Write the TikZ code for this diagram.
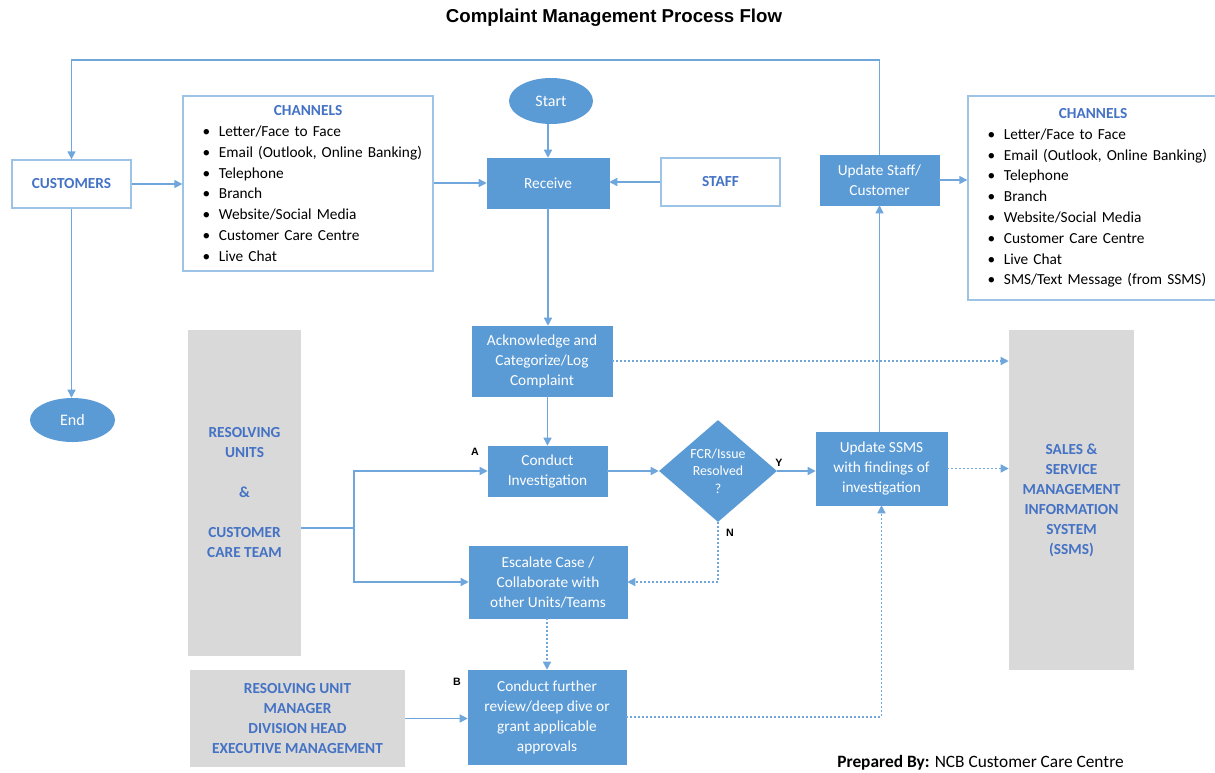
\documentclass[tikz,border=0pt]{standalone}
\usepackage{fontspec}
\setmainfont{Carlito}
\newfontfamily\arialfont{Liberation Sans}
\usepackage{tikz}
\usetikzlibrary{shapes.geometric}
\usetikzlibrary{positioning}
\usetikzlibrary{calc}
\usetikzlibrary{arrows.meta}
\definecolor{fillblue}{HTML}{5B9BD5}
\definecolor{lineblue}{HTML}{6FA6DC}
\definecolor{textblue}{HTML}{4472C4}
\definecolor{edgeblue}{HTML}{9DC3E6}
\definecolor{panelgrey}{HTML}{D9D9D9}
\newcommand{\chtitle}{\null\hfill{\bfseries\color{textblue}CHANNELS}\hfill\null}
\newcommand{\chitem}[1]{\hspace*{9pt}\textbullet\hspace{6.5pt}#1}

\begin{document}
\begin{tikzpicture}
			[
				x = 0.75pt, y = -0.75pt,
				myblock/.style = {draw = fillblue, fill = fillblue, rectangle, text = white, align = center, inner sep = 0pt, font = {\fontsize{11.5}{15}\selectfont}},
				mywhite/.style = {draw = edgeblue, line width = 1pt, rectangle, text = textblue, inner sep = 0pt, font = {\fontsize{11.5}{15}\selectfont\bfseries}},
				mychannels/.style = {draw = edgeblue, line width = 1pt, rectangle, text width = 176pt, align = left, font = {\fontsize{11.5}{15.6}\selectfont}},
				mygrey/.style = {fill = panelgrey, rectangle, text = textblue, align = center, inner sep = 0pt, font = {\fontsize{11.5}{15}\selectfont\bfseries}},
				myterminal/.style = {ellipse, fill = fillblue, text = white, inner sep = 0pt, font = {\fontsize{12}{14}\selectfont}},
				mydecision/.style = {diamond, fill = fillblue, text = white, align = center, inner sep = 0pt, font = {\fontsize{10.4}{13}\selectfont}},
				mytag/.style = {font = {\arialfont\fontsize{8}{9}\selectfont\bfseries}},
				myarrow/.style = {-{Triangle[length = 6pt, width = 6pt]}, draw = lineblue, line width = 1pt},
				myline/.style = {draw = lineblue, line width = 1pt},
				mydotted/.style = {myarrow, dash pattern = on 1.5pt off 1.5pt}
			]
			\useasboundingbox (0,0) rectangle (1215,772);
			%
			\node (title) at (614,18) {\arialfont\fontsize{14}{16}\selectfont\bfseries Complaint Management Process Flow};
			%
			\node (customers) [mywhite, minimum width = 89.25pt, minimum height = 36pt] at (71.5,184) {CUSTOMERS};
			\node (endnode) [myterminal, minimum width = 63.75pt, minimum height = 33pt] at (72.5,420) {End};
			\draw [myarrow] (customers.south) -- (customers.south |- endnode.north);
			%
			\node (chanleft) [mychannels, minimum width = 187.5pt, minimum height = 131.25pt] at (308,183.5)
				{\chtitle\\ \chitem{Letter/Face to Face}\\ \chitem{Email (Outlook, Online Banking)}\\ \chitem{Telephone}\\ \chitem{Branch}\\ \chitem{Website/Social Media}\\ \chitem{Customer Care Centre}\\ \chitem{Live Chat}};
			\draw [myarrow] (customers.east) -- (customers.east -| chanleft.west);
			%
			\node (start) [myterminal, minimum width = 63pt, minimum height = 34.5pt] at (551,101) {Start};
			\node (receive) [myblock, minimum width = 91.5pt, minimum height = 37.5pt] at (548,183) {Receive};
			\node (staff) [mywhite, minimum width = 89.25pt, minimum height = 36pt] at (720.5,182) {STAFF};
			\draw [myarrow] (start.south -| receive.north) -- (receive.north);
			\draw [myarrow] (chanleft.east |- receive.west) -- (receive.west);
			\draw [myarrow] (staff.west) -- (staff.west -| receive.east);
			%
			\node (acknowledge) [myblock, minimum width = 105pt, minimum height = 52.5pt] at (542,361) {Acknowledge and\\Categorize/Log\\Complaint};
			\draw [myarrow] (receive.south) -- (receive.south |- acknowledge.north);
			%
			\node (investigate) [myblock, minimum width = 89.25pt, minimum height = 37.5pt] at (547.5,471) {Conduct\\Investigation};
			\node (taga) [mytag] at (475,452) {A};
			\draw [myarrow] (investigate.north |- acknowledge.south) -- (investigate.north);
			%
			\node (resolved) [mydecision, minimum width = 88.5pt, minimum height = 76.5pt] at (718,471) {FCR/Issue\\Resolved\\?};
			\node (tagy) [mytag] at (779,463) {Y};
			\node (tagn) [mytag] at (730,533) {N};
			\draw [myarrow] (investigate.east) -- (resolved.west);
			%
			\node (updatessms) [myblock, minimum width = 98.25pt, minimum height = 54.75pt] at (881.5,468.5) {Update SSMS\\with findings of\\investigation};
			\draw [myarrow] (resolved.east) -- (resolved.east -| updatessms.west);
			%
			\node (updatestaff) [myblock, minimum width = 89.25pt, minimum height = 37.5pt] at (879.5,180) {Update Staff/\\Customer};
			\draw [myarrow] (updatestaff.south |- updatessms.north) -- (updatestaff.south);
			%
			\node (chanright) [mychannels, minimum width = 187.5pt, minimum height = 153pt] at (1093,198)
				{\chtitle\\ \chitem{Letter/Face to Face}\\ \chitem{Email (Outlook, Online Banking)}\\ \chitem{Telephone}\\ \chitem{Branch}\\ \chitem{Website/Social Media}\\ \chitem{Customer Care Centre}\\ \chitem{Live Chat}\\ \chitem{SMS/Text Message (from SSMS)}};
			\draw [myarrow] (updatestaff.east) -- (updatestaff.east -| chanright.west);
			%
			\coordinate (toprail) at (0,60);
			\draw [myarrow] (updatestaff.north) -- (updatestaff.north |- toprail) -| (customers.north);
			%
			\node (ssms) [mygrey, minimum width = 93.75pt, minimum height = 255pt] at (1071.5,500) {SALES \&\\SERVICE\\MANAGEMENT\\INFORMATION\\SYSTEM\\(SSMS)};
			\draw [mydotted] (acknowledge.east) -- (acknowledge.east -| ssms.west);
			\draw [mydotted] (updatessms.east) -- (updatessms.east -| ssms.west);
			%
			\node (escalate) [myblock, minimum width = 118.5pt, minimum height = 54pt] at (548,582) {Escalate Case /\\Collaborate with\\other Units/Teams};
			\draw [mydotted] (resolved.south) |- (escalate.east);
			%
			\node (review) [myblock, minimum width = 118.5pt, minimum height = 70.5pt] at (547,717) {Conduct further\\review/deep dive or\\grant applicable\\approvals};
			\node (tagb) [mytag] at (457,682) {B};
			\draw [mydotted] (escalate.south -| review.north) -- (review.north);
			\draw [mydotted] (review.east) -| (updatessms.south);
			%
			\node (units) [mygrey, minimum width = 84.75pt, minimum height = 244.5pt] at (244.5,493) {RESOLVING\\UNITS\\[15pt]\&\\[15pt]CUSTOMER\\CARE TEAM};
			\coordinate (split) at (354,528);
			\draw [myline] (units.east |- split) -- (split);
			\draw [myarrow] (split) |- (investigate.west);
			\draw [myarrow] (split) |- (escalate.west);
			%
			\node (managers) [mygrey, minimum width = 161.25pt, minimum height = 72.75pt] at (297.5,718.5) {RESOLVING UNIT\\MANAGER\\DIVISION HEAD\\EXECUTIVE MANAGEMENT};
			\draw [myarrow] (managers.east) -- (managers.east -| review.west);
			%
			\node (prepared) at (980.5,763) {\fontsize{13}{15}\selectfont\textbf{Prepared By:} NCB Customer Care Centre};
			%
		\end{tikzpicture}
\end{document}
